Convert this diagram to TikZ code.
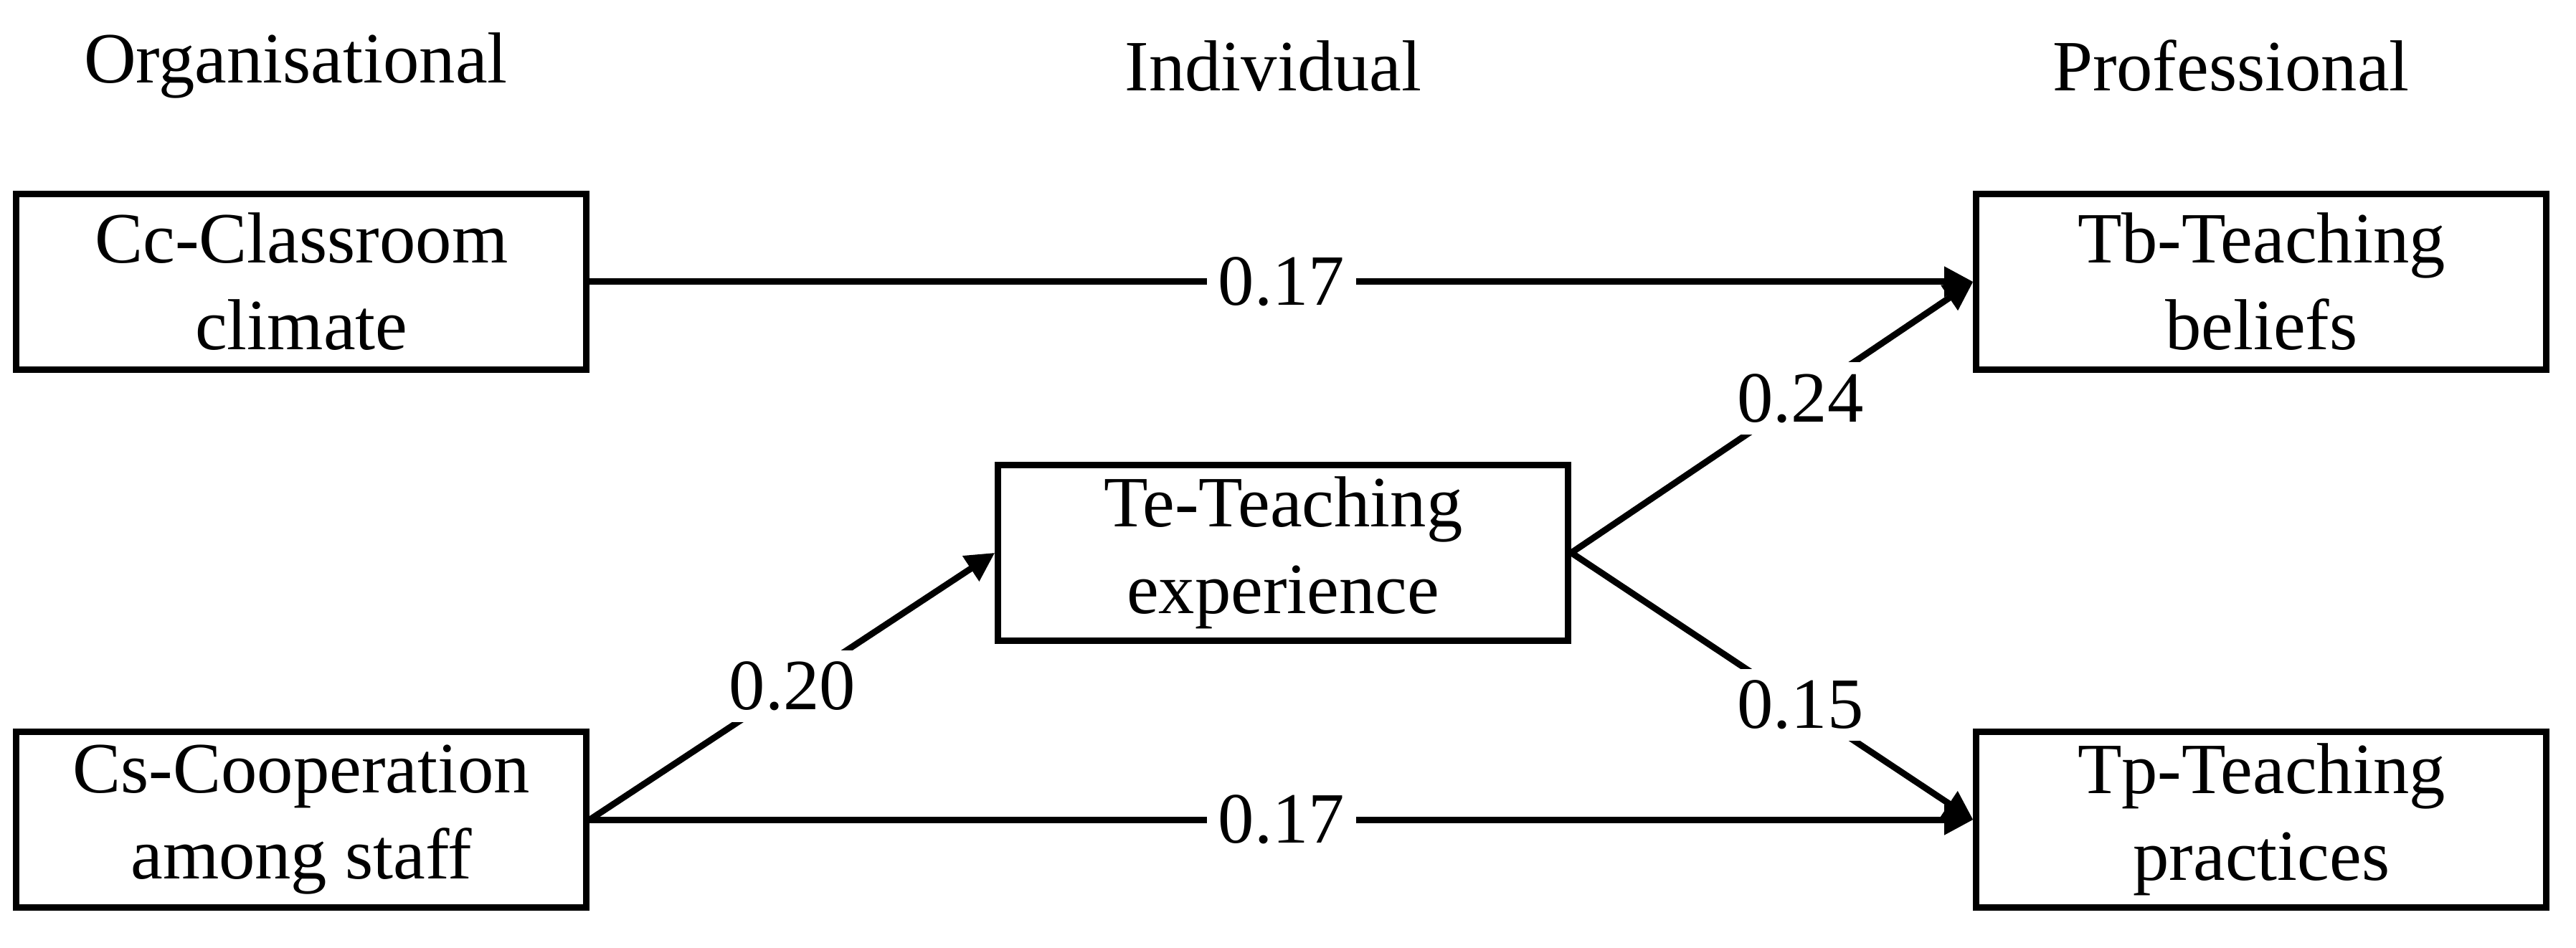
\documentclass[tikz,border=0pt]{standalone}
\usepackage{fontspec}
\setmainfont{Liberation Serif}
\usetikzlibrary{arrows.meta,positioning}
\tikzset{
  box/.style={draw, line width=1.1pt, minimum width=3.47cm, minimum height=1.07cm, align=center, inner sep=0pt},
  path/.style={line width=1.1pt, -{Triangle[length=5pt,width=5pt]}},
  coef/.style={fill=white, inner sep=2pt},
  head/.style={}
}
\begin{document}
\begin{tikzpicture}[font=\fontsize{12.5}{15}\selectfont]
    \useasboundingbox (0,0) rectangle (15.68,5.77);
    % level headings
    \node[head] (org) at (1.80,5.37) {Organisational};
    \node[head] (ind) at (7.75,5.37) {Individual};
    \node[head] (pro) at (13.58,5.37) {Professional};
    % constructs
    \node[box] (Cc) at (1.835,4.055) {Cc-Classroom\\climate};
    \node[box] (Cs) at (1.835,0.78) {Cs-Cooperation\\among staff};
    \node[box] (Te) at (7.81,2.405) {Te-Teaching\\experience};
    \node[box] (Tb) at (13.765,4.055) {Tb-Teaching\\beliefs};
    \node[box] (Tp) at (13.765,0.78) {Tp-Teaching\\practices};
    % paths
    \draw[path] (Cc) -- node[coef] {0.17} (Tb);
    \draw[path] (Cs) -- node[coef] {0.17} (Tp);
    \draw[path] (Cs.east) -- node[coef] {0.20} (Te.west);
    \draw[path] (Te.east) -- node[coef, pos=0.57] {0.24} (Tb.west);
    \draw[path] (Te.east) -- node[coef, pos=0.57] {0.15} (Tp.west);
\end{tikzpicture}
\end{document}
